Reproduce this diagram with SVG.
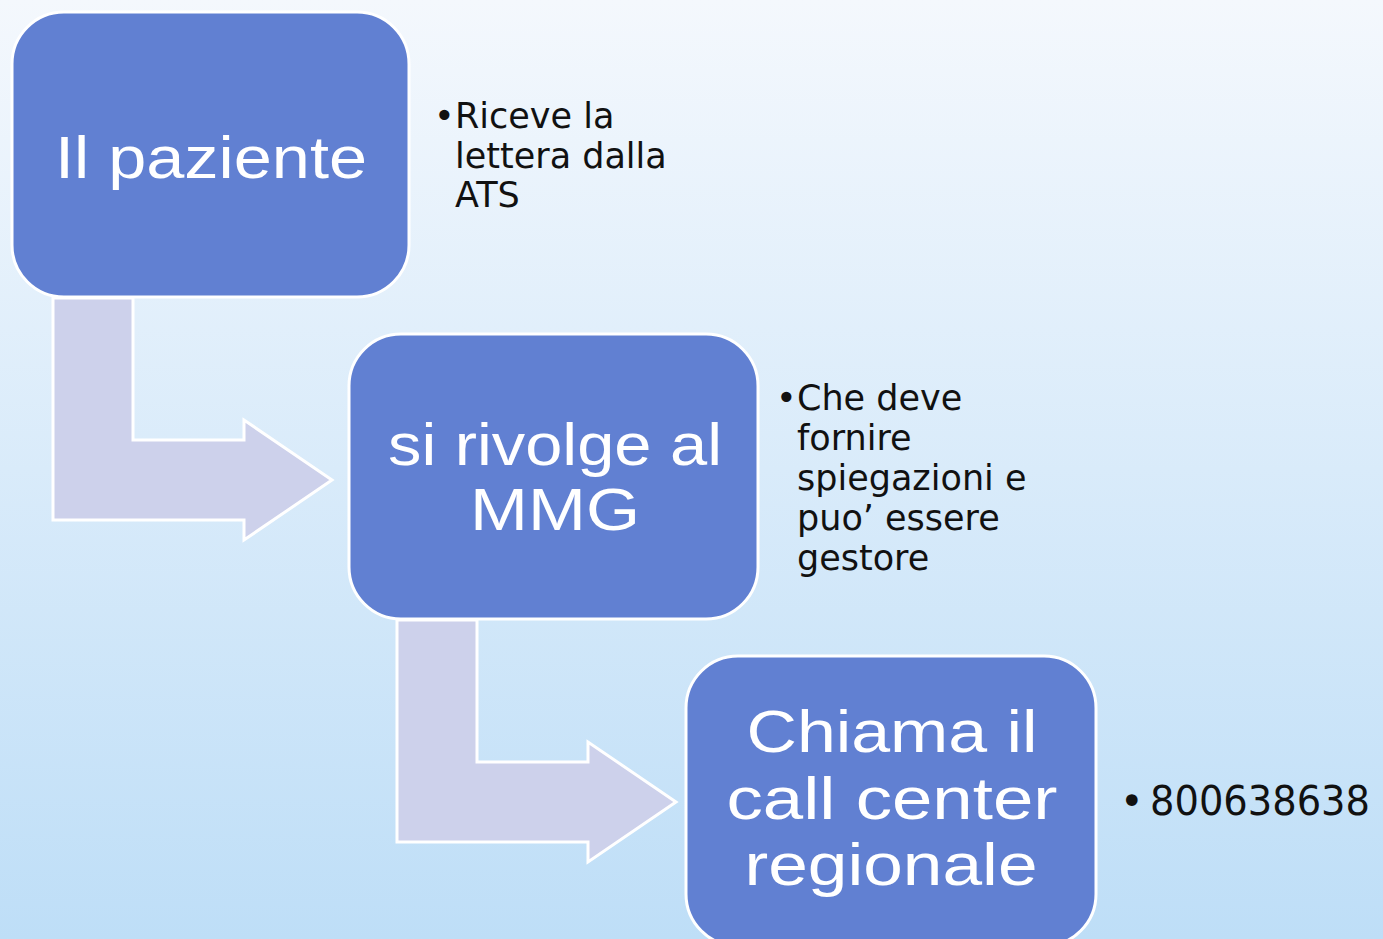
<svg xmlns="http://www.w3.org/2000/svg" width="1383" height="939" viewBox="0 0 1383 939">
<style>
.box{fill:#6180D2;stroke:#FFFFFF;stroke-width:3}
.arrow{fill:#CDD1EB;stroke:#FFFFFF;stroke-width:3}
.big2{font-family:"Liberation Sans","DejaVu Sans",sans-serif;font-size:60px;fill:#FFFFFF;text-anchor:middle}
.side{font-family:"DejaVu Sans","Liberation Sans",sans-serif;font-size:35px;fill:#111111}
.num{font-family:"DejaVu Sans","Liberation Sans",sans-serif;font-size:40px;fill:#111111}
</style>
<defs>
<linearGradient id="bg" x1="0" y1="0" x2="0" y2="1">
<stop offset="0" stop-color="#F4F8FD"/>
<stop offset="1" stop-color="#BEDEF7"/>
</linearGradient>
</defs>
<rect x="0" y="0" width="1383" height="939" fill="url(#bg)"/>
<g id="connectors">
<path class="arrow" d="M53,298 L133,298 L133,440 L244,440 L244,420 L332,480 L244,540 L244,520 L53,520 Z"/>
<path class="arrow" d="M397,620 L477,620 L477,762 L588,762 L588,742 L676,802 L588,862 L588,842 L397,842 Z"/>
</g>
<g id="node1">
<rect class="box" x="12" y="12" width="397" height="285" rx="52"/>
<text class="big2" x="211" y="178" font-size="64" textLength="312" lengthAdjust="spacingAndGlyphs">Il paziente</text>
</g>
<g id="note1">
<text class="side" x="434" y="128">•</text>
<text class="side" x="455" y="128">Riceve la</text>
<text class="side" x="455" y="168">lettera dalla</text>
<text class="side" x="455" y="207">ATS</text>
</g>
<g id="node2">
<rect class="box" x="349" y="334" width="409" height="285" rx="52"/>
<text class="big2" x="555" y="465" textLength="334" lengthAdjust="spacingAndGlyphs">si rivolge al</text>
<text class="big2" x="555" y="530" textLength="170" lengthAdjust="spacingAndGlyphs">MMG</text>
</g>
<g id="note2">
<text class="side" x="776" y="410">•</text>
<text class="side" x="797" y="410">Che deve</text>
<text class="side" x="797" y="450">fornire</text>
<text class="side" x="797" y="490">spiegazioni e</text>
<text class="side" x="797" y="530">puo’ essere</text>
<text class="side" x="797" y="570">gestore</text>
</g>
<g id="node3">
<rect class="box" x="686" y="656" width="410" height="290" rx="52"/>
<text class="big2" x="892" y="752" textLength="291" lengthAdjust="spacingAndGlyphs">Chiama il</text>
<text class="big2" x="892" y="819" textLength="331" lengthAdjust="spacingAndGlyphs">call center</text>
<text class="big2" x="891" y="885" textLength="293" lengthAdjust="spacingAndGlyphs">regionale</text>
</g>
<g id="note3">
<text class="num" x="1120" y="815">•</text>
<text class="num" x="1150" y="815" textLength="220" lengthAdjust="spacingAndGlyphs">800638638</text>
</g>
</svg>
